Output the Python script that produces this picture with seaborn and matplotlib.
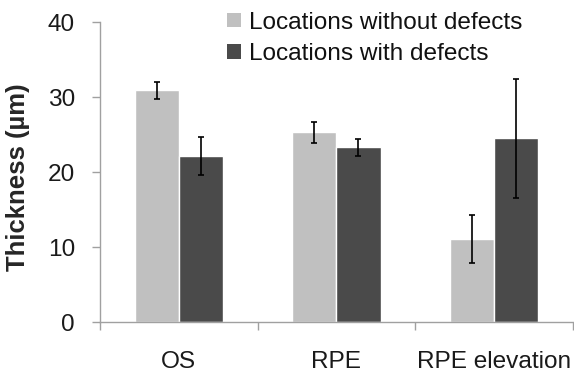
import matplotlib
matplotlib.use("Agg")
import matplotlib.pyplot as plt
import seaborn as sns
import pandas as pd
import numpy as np
from matplotlib.patches import Patch

categories = ["OS", "RPE", "RPE elevation"]
series_names = ["Locations without defects", "Locations with defects"]
without_vals = [30.9, 25.3, 11.1]
without_err = [1.1, 1.4, 3.2]
with_vals = [22.1, 23.3, 24.5]
with_err = [2.55, 1.15, 7.9]
yticks = [0, 10, 20, 30, 40]
colors = ["#c0c0c0", "#4a4a4a"]

sns.set_theme(style="white")
plt.rcParams["font.family"] = ["Liberation Sans", "DejaVu Sans"]

df = pd.DataFrame({
    "cat": categories * 2,
    "series": [series_names[0]] * 3 + [series_names[1]] * 3,
    "val": without_vals + with_vals,
    "err": without_err + with_err,
})

FS = 17.6

fig = plt.figure(figsize=(5.74, 3.74), dpi=100)
ax = fig.add_axes([0.174, 0.139, 0.824, 0.802])
sns.barplot(data=df, x="cat", y="val", hue="series", palette=colors,
            width=0.56, errorbar=None, ax=ax, legend=False, saturation=1,
            order=categories, hue_order=series_names)

# error bars at bar centers
for container, errs in zip(ax.containers, [without_err, with_err]):
    xs = [p.get_x() + p.get_width() / 2 for p in container.patches]
    hs = [p.get_height() for p in container.patches]
    ax.errorbar(xs, hs, yerr=errs, fmt="none", ecolor="black",
                elinewidth=1.2, capsize=2, capthick=1.2)

ax.set_ylim(0, 40)
ax.set_xlim(-0.5, 2.5)
ax.set_yticks(yticks)
ax.set_yticklabels([str(v) for v in yticks], fontsize=FS, color="#1a1a1a")
ax.set_xticks(range(len(categories)))
ax.set_xticklabels(categories, fontsize=FS, color="#1a1a1a")
ax.set_xticks([-0.5, 0.5, 1.5, 2.5], minor=True)
ax.tick_params(axis="x", which="major", length=0, pad=21)
ax.tick_params(axis="x", which="minor", length=6, width=1, color="#a0a0a0", direction="out", bottom=True)
ax.tick_params(axis="y", which="major", length=6, width=1, color="#a0a0a0", direction="out", left=True, pad=12)
ax.set_xlabel("")
ax.set_ylabel("Thickness (µm)", fontsize=18.5, fontweight="bold")
ax.yaxis.set_label_coords(-0.147, 0.483)

for s in ["top", "right"]:
    ax.spines[s].set_visible(False)
for s in ["left", "bottom"]:
    ax.spines[s].set_color("#a0a0a0")
    ax.spines[s].set_linewidth(1)

handles = [Patch(facecolor=c, edgecolor="none") for c in colors]
leg = fig.legend(handles, series_names, loc="upper left", bbox_to_anchor=(0.379, 0.995),
                 frameon=False, fontsize=FS, handlelength=0.55, handleheight=0.55,
                 handletextpad=0.35, labelspacing=0.4, borderaxespad=0)
for t in leg.get_texts():
    t.set_color("#111111")

fig.savefig("out.png", dpi=100)
